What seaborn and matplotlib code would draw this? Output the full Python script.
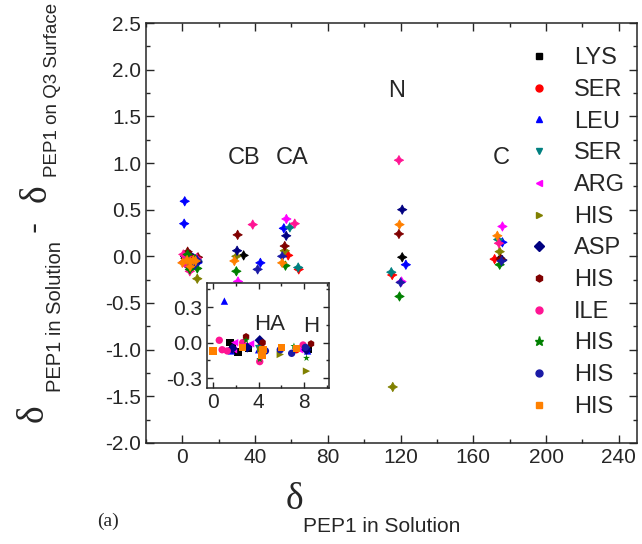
import numpy as np
import pandas as pd
import matplotlib
matplotlib.use("Agg")
import matplotlib.pyplot as plt
import seaborn as sns
from matplotlib.lines import Line2D
from matplotlib.ticker import MultipleLocator

sns.set_style("ticks")
plt.rcParams['font.family'] = ['Liberation Sans', 'DejaVu Sans']

residues = ['LYS', 'SER', 'LEU', 'SER', 'ARG', 'HIS', 'ASP', 'HIS', 'ILE', 'HIS', 'HIS', 'HIS']
colors = ['#000000', '#ff0000', '#0000ff', '#008080', '#ff00ff', '#808000',
          '#000080', '#800000', '#ff1493', '#008000', '#1a1aa6', '#ff8000']
legend_markers = ['s', 'o', '^', 'v', '<', '>', 'D', 'h', 'o', '*', 'o', 's']

# H / HA region (also shown in the inset)
h_res = [11, 8, 8, 8, 8, 8, 8, 0, 0, 0, 0, 0, 4, 4, 4, 4, 6, 6, 6, 6,
         2, 2, 2, 2, 2, 11, 11, 11, 11, 11, 7, 7, 7, 9, 9, 9, 9,
         5, 5, 5, 5, 10, 10, 10, 10, 3, 3, 1, 1]
h_shift = [0.0, 0.55, 0.8, 1.25, 2.6, 7.9, 4.1, 1.5, 2.2, 3.1, 8.4, 1.7, 1.8, 1.9, 3.3, 7.6, 1.7, 3.0, 4.1, 8.2,
           1.6, 4.0, 8.3, 1.0, 1.3, 2.6, 4.3, 6.0, 7.3, 4.4, 2.9, 4.35, 8.6, 2.9, 4.1, 7.1, 8.2,
           2.8, 4.2, 5.9, 8.2, 4.6, 5.9, 6.9, 8.1, 4.0, 8.3, 7.3, 4.2]
h_delta = [-0.07, 0.02, -0.06, -0.07, 0.0, -0.02, -0.16, 0.0, -0.08, -0.05, -0.06, -0.02, -0.06, 0.0, -0.01, -0.06,
           -0.05, -0.04, 0.02, -0.06, -0.07, -0.06, -0.07, 0.35, 0.59, -0.04, -0.11, -0.04, -0.05, -0.06,
           0.05, 0.0, -0.01, 0.02, -0.14, -0.03, -0.13, -0.02, -0.06, -0.10, -0.24,
           -0.07, -0.06, -0.09, -0.04, -0.05, -0.05, -0.06, -0.03]

cb_res = [8, 7, 6, 5, 0, 11, 9, 4, 2, 10]
cb_shift = [38.7, 30.4, 30.1, 29.7, 33.7, 28.6, 29.7, 30.6, 42.9, 41.4]
cb_delta = [0.34, 0.23, 0.06, 0.0, 0.01, -0.05, -0.16, -0.27, -0.07, -0.14]

ca_res = [4, 8, 3, 2, 6, 7, 5, 1, 10, 11, 9, 3, 1]
ca_shift = [57.2, 61.8, 59.1, 55.8, 57.1, 56.3, 56.3, 58.2, 54.9, 54.9, 56.7, 63.7, 64.0]
ca_delta = [0.40, 0.35, 0.31, 0.30, 0.22, 0.11, 0.06, 0.01, 0.0, -0.07, -0.10, -0.12, -0.14]

n_res = [8, 6, 11, 7, 0, 2, 3, 1, 4, 10, 9, 5]
n_shift = [119.1, 120.9, 119.4, 119.1, 120.9, 122.9, 114.9, 115.4, 120.5, 120.0, 119.4, 115.7]
n_delta = [1.03, 0.50, 0.34, 0.24, -0.01, -0.09, -0.17, -0.20, -0.27, -0.28, -0.43, -1.40]

c_res = [4, 11, 3, 2, 8, 5, 1, 6, 7, 9, 0, 10]
c_shift = [176.0, 173.2, 173.7, 176.0, 174.1, 174.5, 171.7, 176.0, 175.0, 174.5, 174.8, 175.5]
c_delta = [0.32, 0.22, 0.18, 0.15, 0.14, 0.05, -0.03, -0.04, -0.03, -0.09, -0.02, -0.05]

ids = [f"{i}_{r}" for i, r in enumerate(residues)]
palette = dict(zip(ids, colors))

def frame(res, shift, delta):
    d = pd.DataFrame({'res': [ids[i] for i in res], 'shift': shift, 'delta': delta})
    d['res'] = pd.Categorical(d['res'], categories=ids, ordered=True)
    return d

df_h = frame(h_res, h_shift, h_delta).sort_values('res')
df_all = pd.concat([df_h, frame(cb_res, cb_shift, cb_delta), frame(ca_res, ca_shift, ca_delta),
                    frame(n_res, n_shift, n_delta), frame(c_res, c_shift, c_delta)])
df_all['res'] = pd.Categorical(df_all['res'], categories=ids, ordered=True)
df_all = df_all.sort_values('res', kind='stable')

fig = plt.figure(figsize=(6.42, 5.44), dpi=100)
ax = fig.add_axes([0.2274, 0.1857, 0.7648, 0.772])

sns.scatterplot(data=df_all, x='shift', y='delta', hue='res', palette=palette, hue_order=ids,
                marker=(4, 1, 0), s=45, linewidth=0.6, edgecolor='face', legend=False, ax=ax)

ax.set_xlim(-20, 250)
ax.set_ylim(-2.0, 2.5)
ax.xaxis.set_major_locator(MultipleLocator(40))
ax.xaxis.set_minor_locator(MultipleLocator(20))
ax.yaxis.set_major_locator(MultipleLocator(0.5))
ax.yaxis.set_minor_locator(MultipleLocator(0.25))
ax.yaxis.set_major_formatter(matplotlib.ticker.FormatStrFormatter('%.1f'))
ax.tick_params(which='both', direction='in', top=True, right=True, labelsize=15, width=1.0)
ax.tick_params(which='major', length=6)
ax.tick_params(which='minor', length=3)
ax.set_xlabel('')
ax.set_ylabel('')
for s in ax.spines.values():
    s.set_linewidth(1.1)

for txt, x, y in [('CB', 34.1, 1.05), ('CA', 60.5, 1.05), ('N', 117.6, 1.77), ('C', 175.6, 1.05)]:
    ax.text(x, y, txt, fontsize=17, ha='center', va='center')

handles = [Line2D([], [], linestyle='none', marker=m, color=c, markersize=5 if m != '*' else 6.5)
           for m, c in zip(legend_markers, colors)]
ax.legend(handles, residues, loc='upper left', bbox_to_anchor=(0.776, 0.942), frameon=False,
          fontsize=17, handlelength=1.0, handletextpad=1.0, labelspacing=0.41, borderpad=0,
          borderaxespad=0)

# inset with the H / HA region
axi = fig.add_axes([0.3229, 0.2873, 0.19, 0.1919])
sns.scatterplot(data=df_h, x='shift', y='delta', hue='res', style='res', palette=palette,
                markers=dict(zip(ids, legend_markers)), hue_order=ids, style_order=ids,
                s=28, linewidth=0, legend=False, ax=axi)
axi.set_xlim(-0.5, 10.2)
axi.set_ylim(-0.38, 0.5)
axi.xaxis.set_major_locator(MultipleLocator(4))
axi.xaxis.set_minor_locator(MultipleLocator(2))
axi.yaxis.set_major_locator(MultipleLocator(0.3))
axi.yaxis.set_minor_locator(MultipleLocator(0.15))
axi.yaxis.set_major_formatter(matplotlib.ticker.FormatStrFormatter('%.1f'))
axi.tick_params(which='both', direction='in', top=True, right=True, labelsize=15, width=1.0)
axi.tick_params(which='major', length=4)
axi.tick_params(which='minor', length=2)
axi.set_xlabel('')
axi.set_ylabel('')
for s in axi.spines.values():
    s.set_linewidth(1.1)
axi.text(5.0, 0.15, 'HA', fontsize=16, ha='center', va='center')
axi.text(8.6, 0.14, 'H', fontsize=16, ha='center', va='center')

# axis labels built from a large delta and a subscript
W, H = 642.0, 544.0
fig.text(294 / W, 1 - 500 / H, 'δ', fontsize=27, family='Liberation Serif', ha='center', va='center')
fig.text(303 / W, 1 - 532 / H, 'PEP1 in Solution', fontsize=15, ha='left', va='baseline')

fig.text(33 / W, 1 - 413 / H, 'δ', fontsize=27, family='Liberation Serif', rotation=90,
         ha='center', va='center')
fig.text(61 / W, 1 - 392 / H, 'PEP1 in Solution', fontsize=14.5, rotation=90, rotation_mode='anchor',
         ha='left', va='baseline')
fig.text(35 / W, 1 - 226 / H, '-', fontsize=24, rotation=90, ha='center', va='center')
fig.text(36 / W, 1 - 193 / H, 'δ', fontsize=27, family='Liberation Serif', rotation=90,
         ha='center', va='center')
fig.text(57 / W, 1 - 177 / H, 'PEP1 on Q3 Surface', fontsize=13.5, rotation=90, rotation_mode='anchor',
         ha='left', va='baseline')

fig.text(108 / W, 1 - 521 / H, '(a)', fontsize=14, family='Liberation Serif', ha='center', va='center')

fig.savefig('out.png', dpi=100)
